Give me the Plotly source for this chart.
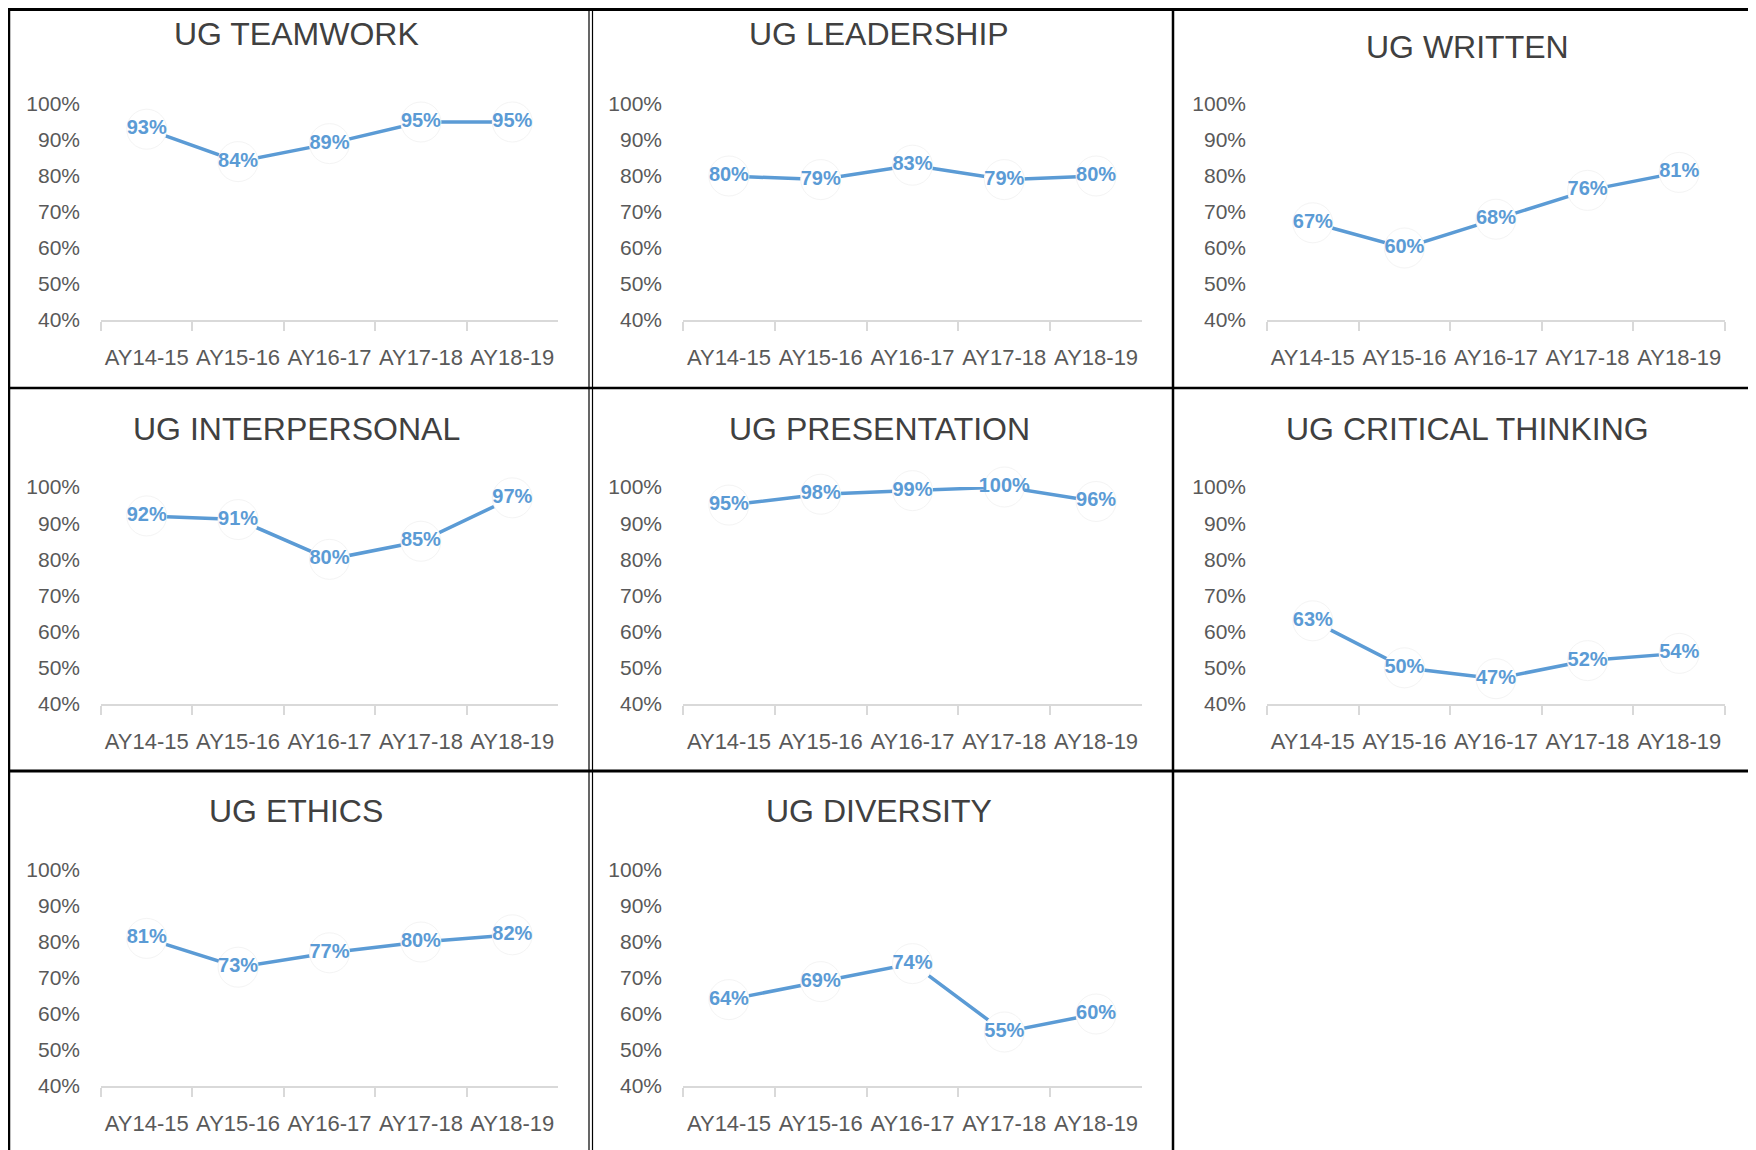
import plotly.graph_objects as go

# ---------------- data ----------------
categories = ["AY14-15", "AY15-16", "AY16-17", "AY17-18", "AY18-19"]

titles = ["UG TEAMWORK", "UG LEADERSHIP", "UG WRITTEN",
          "UG INTERPERSONAL", "UG PRESENTATION", "UG CRITICAL THINKING",
          "UG ETHICS", "UG DIVERSITY"]

teamwork = [0.93, 0.84, 0.89, 0.95, 0.95]
leadership = [0.80, 0.79, 0.83, 0.79, 0.80]
written = [0.67, 0.60, 0.68, 0.76, 0.81]
interpersonal = [0.92, 0.91, 0.80, 0.85, 0.97]
presentation = [0.95, 0.98, 0.99, 1.00, 0.96]
critical_thinking = [0.63, 0.50, 0.47, 0.52, 0.54]
ethics = [0.81, 0.73, 0.77, 0.80, 0.82]
diversity = [0.64, 0.69, 0.74, 0.55, 0.60]

series = [teamwork, leadership, written, interpersonal, presentation,
          critical_thinking, ethics, diversity]

y_ticks = [0.4, 0.5, 0.6, 0.7, 0.8, 0.9, 1.0]

# ---------------- layout geometry (page pixels) ----------------
PAGE_W, PAGE_H = 1756, 1150
OFF = 8  # default page body margin
W, H = PAGE_W - OFF, PAGE_H - OFF
cols_px = [(101, 558), (683, 1142), (1267, 1725)]
rows_px = [(104, 320), (487, 704), (870, 1086)]
title_x_px = [296, 879, 1467]
title_y_px = [[34, 34, 47], [429, 429, 429], [811, 811, 811]]

BLUE = "#5B9BD5"
GREY_TXT = "#595959"
AXIS_GREY = "#D9D9D9"
FONT = "Liberation Sans"


def fx(x):
    return (x - OFF) / W


def fy(y):
    return 1 - (y - OFF) / H


fig = go.Figure()
annotations = []
layout_axes = {}

for i, (name, vals) in enumerate(zip(titles, series)):
    r, c = divmod(i, 3)
    n = i + 1
    xa = "x" if n == 1 else f"x{n}"
    ya = "y" if n == 1 else f"y{n}"
    xkey = "xaxis" if n == 1 else f"xaxis{n}"
    ykey = "yaxis" if n == 1 else f"yaxis{n}"

    fig.add_trace(go.Scatter(
        x=categories, y=vals, xaxis=xa, yaxis=ya,
        mode="lines+markers+text",
        line=dict(color=BLUE, width=3.5),
        marker=dict(size=40, color="white", line=dict(color="#F4F4F4", width=1)),
        text=[f"{v*100:.0f}%" for v in vals],
        textposition="middle center",
        textfont=dict(family=FONT, size=20, color=BLUE, weight="bold"),
        cliponaxis=False,
        showlegend=False,
        hoverinfo="skip",
    ))

    x0, x1 = cols_px[c]
    ytop, ybot = rows_px[r]
    layout_axes[xkey] = dict(
        domain=[fx(x0), fx(x1)], anchor=ya, type="category",
        range=[-0.5, 4.5], showline=True, linecolor=AXIS_GREY, linewidth=2,
        ticks="outside", tickson="boundaries", ticklen=9, tickcolor=AXIS_GREY,
        tickwidth=2, showgrid=False, zeroline=False, automargin=False,
        tickangle=0,
        tickfont=dict(family=FONT, size=22, color=GREY_TXT),
        ticklabelstandoff=17, fixedrange=True,
    )
    layout_axes[ykey] = dict(
        domain=[fy(ybot), fy(ytop)], anchor=xa, range=[0.4, 1.0],
        tickvals=y_ticks, tickformat=".0%", showline=False, showgrid=False,
        zeroline=False, ticks="", ticklabelstandoff=20, automargin=False,
        tickfont=dict(family=FONT, size=21, color=GREY_TXT), fixedrange=True,
    )
    annotations.append(dict(
        text=name, x=fx(title_x_px[c]), y=fy(title_y_px[r][c]),
        xref="paper", yref="paper", xanchor="center", yanchor="middle",
        showarrow=False, font=dict(family=FONT, size=32, color="#404040"),
    ))

# ---------------- cell borders ----------------
def hline(y, xa, xb, w):
    return dict(type="line", xref="paper", yref="paper",
                x0=fx(xa), x1=fx(xb), y0=fy(y), y1=fy(y),
                line=dict(color="black", width=w))


def vline(x, ya, yb, w):
    return dict(type="line", xref="paper", yref="paper",
                x0=fx(x), x1=fx(x), y0=fy(ya), y1=fy(yb),
                line=dict(color="black", width=w))


shapes = [
    hline(9.5, 8, 1756, 3),
    hline(388, 8, 1756, 2.5),
    hline(771, 8, 1756, 3),
    vline(9, 8, 1150, 2.5),
    vline(589, 8, 1150, 1.2),
    vline(592.5, 8, 1150, 1.2),
    vline(1173, 8, 1150, 2.5),
    vline(1754, 8, 771, 2.5),
]

fig.update_layout(
    width=W, height=H,
    margin=dict(l=0, r=0, t=0, b=0, autoexpand=False),
    paper_bgcolor="white", plot_bgcolor="white",
    annotations=annotations, shapes=shapes,
    **layout_axes,
)

fig.write_html("out.html", config={"displayModeBar": False})
